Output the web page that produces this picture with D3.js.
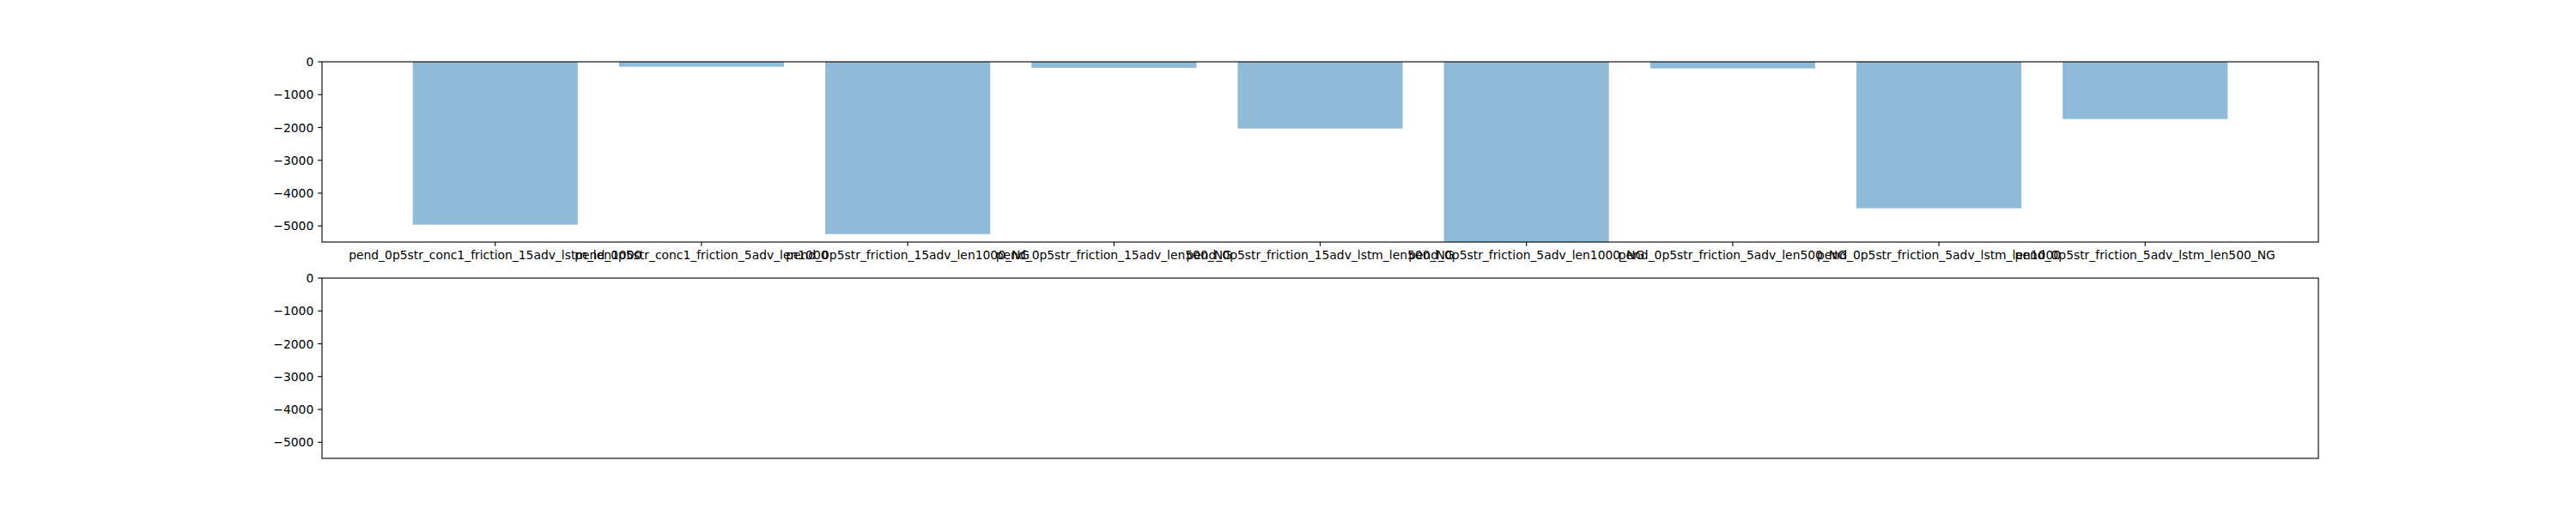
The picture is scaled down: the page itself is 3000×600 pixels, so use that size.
<!DOCTYPE html>
<html>
<head>
<meta charset="utf-8">
<script src="https://cdn.jsdelivr.net/npm/d3@7"></script>
<style>
  html, body { margin: 0; padding: 0; background: #fff; }
  svg { display: block; }
  text { font-family: "DejaVu Sans", sans-serif; font-size: 13.89px; fill: #000; }
</style>
</head>
<body>
<svg id="chart" width="3000" height="600"></svg>
<script>
const categories = [
  "pend_0p5str_conc1_friction_15adv_lstm_len1000",
  "pend_0p5str_conc1_friction_5adv_len1000",
  "pend_0p5str_friction_15adv_len1000_NG",
  "pend_0p5str_friction_15adv_len500_NG",
  "pend_0p5str_friction_15adv_lstm_len500_NG",
  "pend_0p5str_friction_5adv_len1000_NG",
  "pend_0p5str_friction_5adv_len500_NG",
  "pend_0p5str_friction_5adv_lstm_len1000",
  "pend_0p5str_friction_5adv_lstm_len500_NG"
];
const values = [-4960, -149, -5247, -183, -2031, -5490, -201, -4462, -1744];
const yTicks = [0, -1000, -2000, -3000, -4000, -5000];
const yLimits = [-5490, 0];

const svg = d3.select("#chart");
const W = 3000, H = 600;
const left = 375, right = 2700;
const axH = 210;
const topAxes = { top: 72, bottom: 72 + axH };
const botAxes = { top: 324, bottom: 324 + axH };
const tickLen = 4.86, pad = 4.86;

const n = categories.length;
const barW = 0.8;
const dataMin = -barW / 2, dataMax = (n - 1) + barW / 2;
const margin = 0.05 * (dataMax - dataMin);
const x = d3.scaleLinear().domain([dataMin - margin, dataMax + margin]).range([left, right]);

function yScale(ax) {
  return d3.scaleLinear().domain(yLimits).range([ax.bottom, ax.top]);
}
const fmt = v => (v < 0 ? "\u2212" : "") + Math.abs(v);

// ---- top axes ----
const yT = yScale(topAxes);
svg.append("defs").append("clipPath").attr("id", "clipTop")
  .append("rect").attr("x", left).attr("y", topAxes.top)
  .attr("width", right - left).attr("height", axH);

const gTop = svg.append("g");
gTop.append("g").attr("clip-path", "url(#clipTop)")
  .selectAll("rect").data(values).join("rect")
  .attr("x", (d, i) => x(i - barW / 2))
  .attr("width", (d, i) => x(i + barW / 2) - x(i - barW / 2))
  .attr("y", d => yT(Math.max(0, d)))
  .attr("height", d => Math.abs(yT(d) - yT(0)))
  .attr("fill", "#1f77b4").attr("fill-opacity", 0.5);

function drawYAxis(g, y, ax) {
  const t = g.append("g");
  yTicks.forEach(v => {
    const yy = y(v);
    t.append("line").attr("x1", left - tickLen).attr("x2", left)
      .attr("y1", yy).attr("y2", yy).attr("stroke", "#000").attr("stroke-width", 1.11);
    t.append("text").attr("x", left - tickLen - pad).attr("y", yy)
      .attr("text-anchor", "end").attr("dominant-baseline", "central").text(fmt(v));
  });
}
function drawFrame(g, ax) {
  g.append("rect").attr("x", left).attr("y", ax.top)
    .attr("width", right - left).attr("height", ax.bottom - ax.top)
    .attr("fill", "none").attr("stroke", "#000").attr("stroke-width", 1.11);
}

drawYAxis(gTop, yT, topAxes);
// x ticks + labels
const xt = gTop.append("g");
categories.forEach((c, i) => {
  const xx = x(i);
  xt.append("line").attr("x1", xx).attr("x2", xx)
    .attr("y1", topAxes.bottom).attr("y2", topAxes.bottom + tickLen)
    .attr("stroke", "#000").attr("stroke-width", 1.11);
  xt.append("text").attr("x", xx).attr("y", topAxes.bottom + tickLen + pad)
    .attr("text-anchor", "middle").attr("dy", "0.76em").text(c);
});
drawFrame(gTop, topAxes);

// ---- bottom axes (empty, shared y) ----
const yB = yScale(botAxes);
const gBot = svg.append("g");
drawYAxis(gBot, yB, botAxes);
drawFrame(gBot, botAxes);
</script>
</body>
</html>
